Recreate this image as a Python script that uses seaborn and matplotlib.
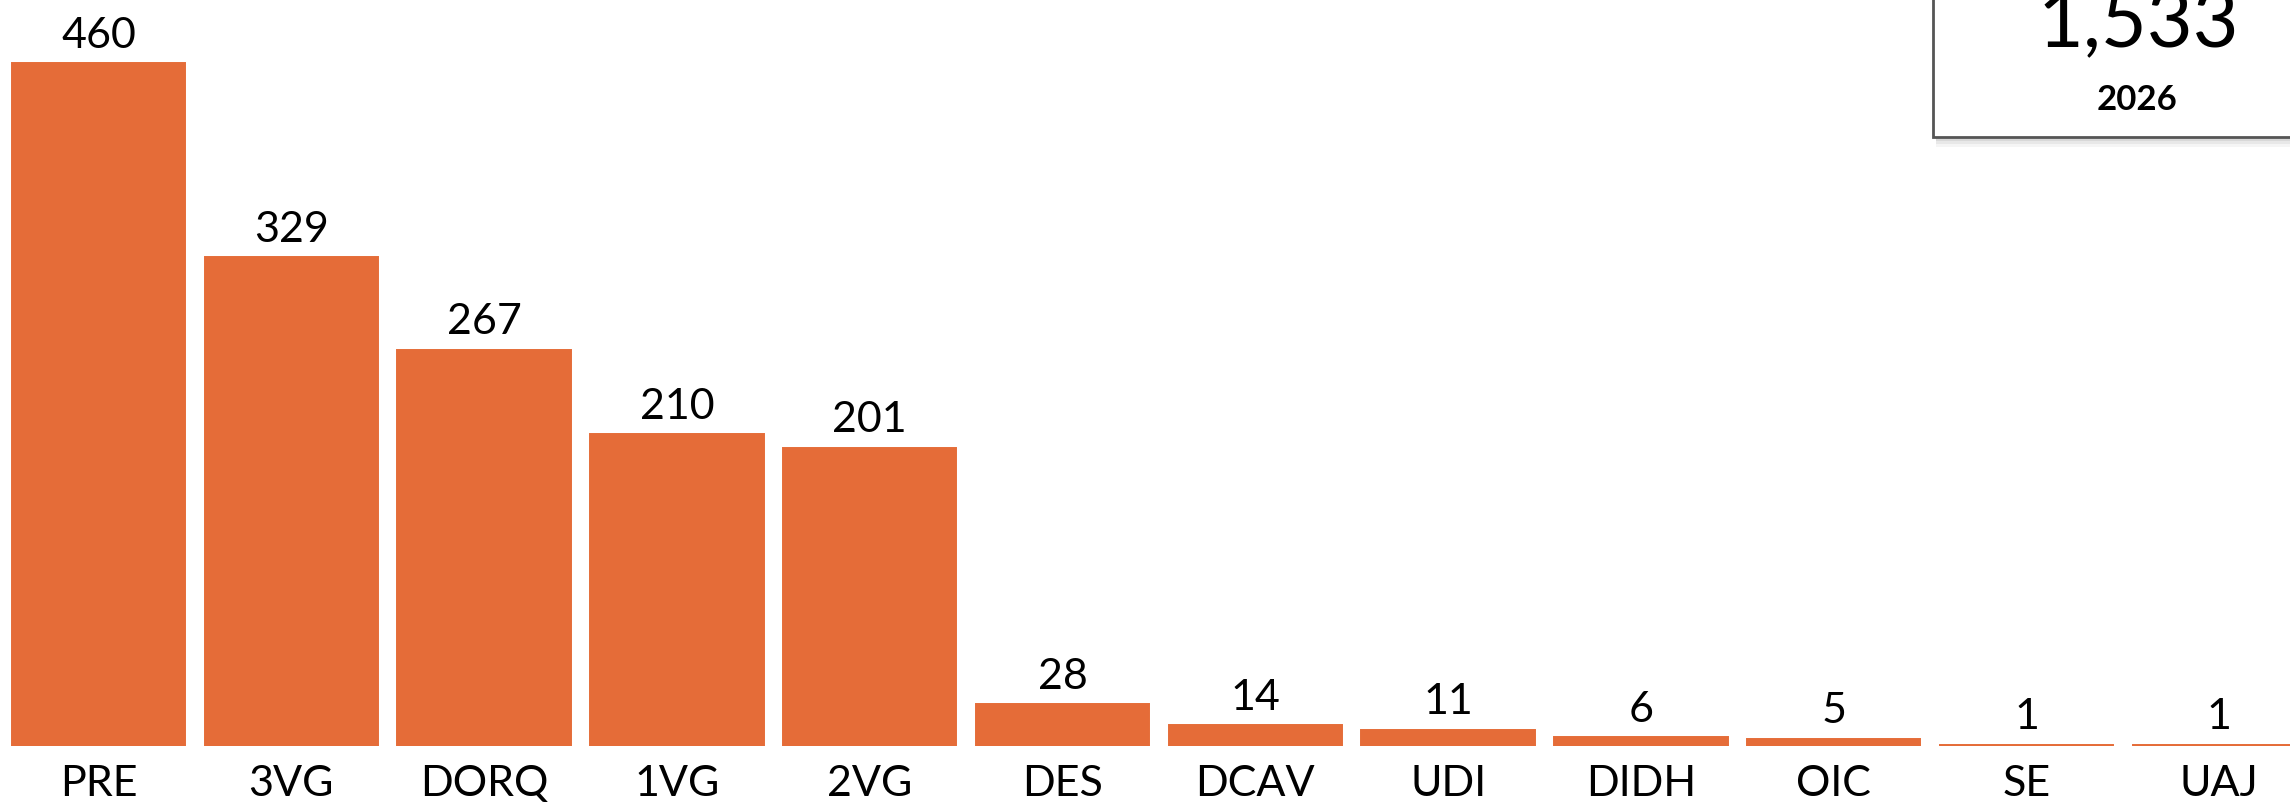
import matplotlib
matplotlib.use("Agg")
from matplotlib import pyplot as plt
from matplotlib.patches import Rectangle
import seaborn as sns
import pandas as pd

categories = ["PRE", "3VG", "DORQ", "1VG", "2VG", "DES", "DCAV", "UDI", "DIDH", "OIC", "SE", "UAJ"]
values = [460, 329, 267, 210, 201, 28, 14, 11, 6, 5, 1, 1]
total_label = "1,533"
year_label = "2026"

BAR_COLOR = "#E56C38"

sns.set_theme(style="white")
plt.rcParams["font.family"] = ["Lato", "DejaVu Sans"]

df = pd.DataFrame({"area": categories, "count": values})

W, H = 2290, 808
fig = plt.figure(figsize=(W / 100, H / 100), dpi=100)
# axes: baseline at y=746 px from top, spans to top edge
ax = fig.add_axes([0, 62 / H, 1, 746 / H])

# thin edge in the bar colour so the tiny bars (value 1) still show as a line
sns.barplot(data=df, x="area", y="count", color=BAR_COLOR, width=0.9,
            saturation=1, edgecolor=BAR_COLOR, linewidth=1.4, ax=ax)

ax.set_xlim(-0.511, -0.511 + W / 192.8)
ax.set_ylim(0, 746 / 1.485)
ax.set_xlabel("")
ax.set_ylabel("")
ax.set_yticks([])
sns.despine(ax=ax, left=True, bottom=True)
ax.tick_params(axis="x", length=0, pad=14, labelsize=31, labelcolor="black")

for cont in ax.containers:
    ax.bar_label(cont, labels=[f"{v:,}" for v in values], padding=6,
                 fontsize=31, color="black")

# total box in the top-right corner
box_left = 1933 / W
box_bottom = (H - 137) / H
for off, a in [(10, 0.08), (7, 0.11), (4, 0.15)]:
    fig.patches.append(Rectangle((box_left + 3 / W, box_bottom - off / H), 1, 1,
                                 transform=fig.transFigure, facecolor="gray",
                                 edgecolor="none", alpha=a, zorder=5))
fig.patches.append(Rectangle((box_left, box_bottom), 1, 1, transform=fig.transFigure,
                             facecolor="white", edgecolor="#555555", linewidth=2,
                             zorder=6))
fig.text(2138 / W, (H - 47) / H, total_label, ha="center", va="baseline",
         fontsize=57, color="black", zorder=7)
fig.text(2137 / W, (H - 110) / H, year_label, ha="center", va="baseline",
         fontsize=25, fontweight="bold", color="black", zorder=7)

fig.savefig("out.png", dpi=100)
